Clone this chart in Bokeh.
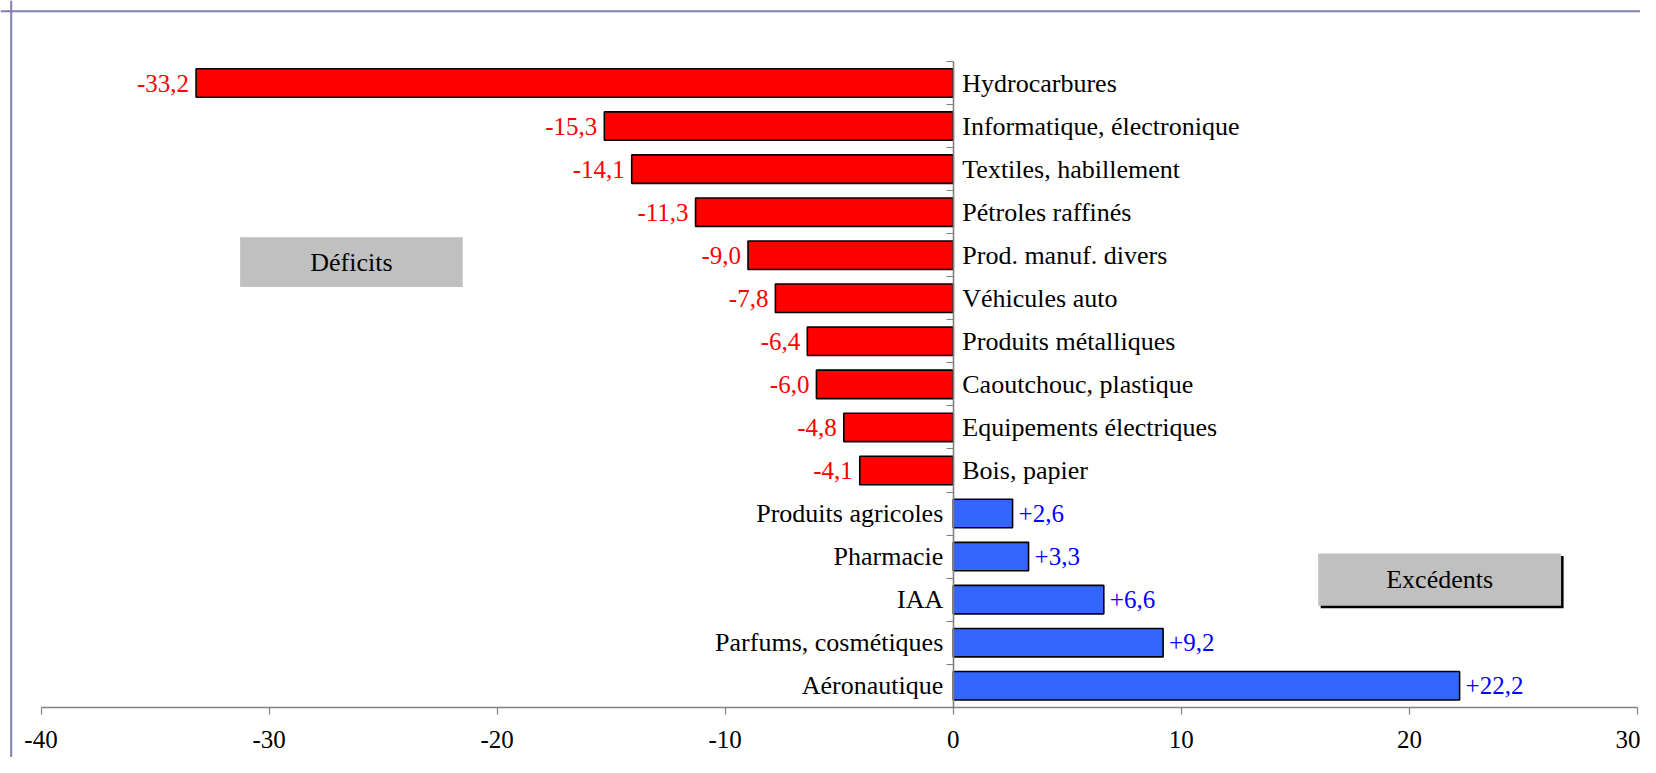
from bokeh.plotting import figure
from bokeh.models import ColumnDataSource, FixedTicker, Span, CustomJSTickFormatter
from bokeh.core.properties import value
from bokeh.embed import file_html
from bokeh.resources import INLINE

categories = [
    "Hydrocarbures", "Informatique, électronique", "Textiles, habillement",
    "Pétroles raffinés", "Prod. manuf. divers", "Véhicules auto",
    "Produits métalliques", "Caoutchouc, plastique", "Equipements électriques",
    "Bois, papier", "Produits agricoles", "Pharmacie", "IAA",
    "Parfums, cosmétiques", "Aéronautique",
]
values = [-33.2, -15.3, -14.1, -11.3, -9.0, -7.8, -6.4, -6.0, -4.8, -4.1,
          2.6, 3.3, 6.6, 9.2, 22.2]
x_ticks = [-40, -30, -20, -10, 0, 10, 20, 30]
box_labels = ["Déficits", "Excédents"]

FONT = "Liberation Serif"
FS = "25px"
FS_CAT = "26px"

n = len(categories)
ys = [n - i - 0.5 for i in range(n)]

W, H = 1640, 757
px_x = 22.807   # pixels per x unit
px_y = 43.05    # pixels per category
x0 = -40 - 40.5 / px_x
x1 = x0 + W / px_x
y1 = n + 61.0 / px_y
y0 = y1 - H / px_y

p = figure(width=W, height=H, x_range=(x0, x1), y_range=(y0, y1),
           output_backend="svg", toolbar_location=None,
           min_border_left=0, min_border_right=0, min_border_top=0,
           min_border_bottom=0, background_fill_color="white",
           border_fill_color="white", outline_line_color=None)
p.grid.visible = False

# frame border (top & left only visible in reference)
p.add_layout(Span(location=x0 + 10.7 / px_x, dimension="height",
                  line_color="#8080b0", line_width=2))
p.add_layout(Span(location=y1 - 10.7 / px_y, dimension="width",
                  line_color="#8080b0", line_width=2))

# boxes
p.quad(left=[16.0 + 2.5 / px_x], right=[26.65 + 2.5 / px_x],
       top=[3.57 - 2.5 / px_y], bottom=[2.36 - 2.5 / px_y],
       fill_color="black", line_color=None)
p.quad(left=[-31.27, 16.0], right=[-21.51, 26.65], top=[10.92, 3.57],
       bottom=[9.76, 2.36], fill_color="#c0c0c0", line_color=None)
p.text(x=[(-31.27 - 21.51) / 2, (16.0 + 26.65) / 2],
       y=[(10.92 + 9.76) / 2, (3.57 + 2.36) / 2], text=box_labels,
       text_font=value(FONT), text_font_size=FS_CAT, text_color="black",
       text_align="center", text_baseline="middle")

neg = [i for i, v in enumerate(values) if v < 0]
pos = [i for i, v in enumerate(values) if v >= 0]

def fmt(v):
    return f"{v:+.1f}".replace(".", ",")

for idx, color, lab_color in ((neg, "#ff0000", "#ff0000"), (pos, "#3366ff", "#0000ff")):
    src = ColumnDataSource(dict(
        y=[ys[i] for i in idx], v=[values[i] for i in idx],
        cat=[categories[i] for i in idx], lab=[fmt(values[i]) for i in idx]))
    p.hbar(y="y", left=0, right="v", height=0.662, source=src,
           fill_color=color, line_color="black", line_width=1.6)
    neg_side = color == "#ff0000"
    p.text(x="v", y="y", text="lab", source=src, text_font=value(FONT),
           text_font_size=FS, text_color=lab_color,
           text_align="right" if neg_side else "left",
           x_offset=-7 if neg_side else 6, text_baseline="middle")
    p.text(x=0, y="y", text="cat", source=src, text_font=value(FONT),
           text_font_size=FS_CAT, text_color="black",
           text_align="left" if neg_side else "right",
           x_offset=9 if neg_side else -10, text_baseline="middle")

xa = p.xaxis[0]
xa.fixed_location = 0
xa.bounds = (x_ticks[0], x_ticks[-1])
xa.ticker = FixedTicker(ticks=x_ticks)
xa.formatter = CustomJSTickFormatter(code="return tick.toString();")
xa.axis_line_color = "#808080"
xa.axis_line_width = 1.6
xa.major_tick_line_color = "#808080"
xa.major_tick_line_width = 1.2
xa.major_tick_in = 0
xa.major_tick_out = 7
xa.minor_tick_line_color = None
xa.major_label_text_font = FONT
xa.major_label_text_font_size = FS
xa.major_label_text_color = "black"
xa.major_label_standoff = 17

ya = p.yaxis[0]
ya.fixed_location = 0
ya.bounds = (0, n)
ya.ticker = FixedTicker(ticks=list(range(n + 1)))
ya.axis_line_color = "#808080"
ya.axis_line_width = 1.6
ya.major_tick_line_color = "#808080"
ya.major_tick_line_width = 1.2
ya.major_tick_in = 0
ya.major_tick_out = 7
ya.minor_tick_line_color = None
ya.major_label_text_color = None
ya.major_label_text_font_size = "1px"

open("out.html", "w").write(file_html(p, INLINE))
